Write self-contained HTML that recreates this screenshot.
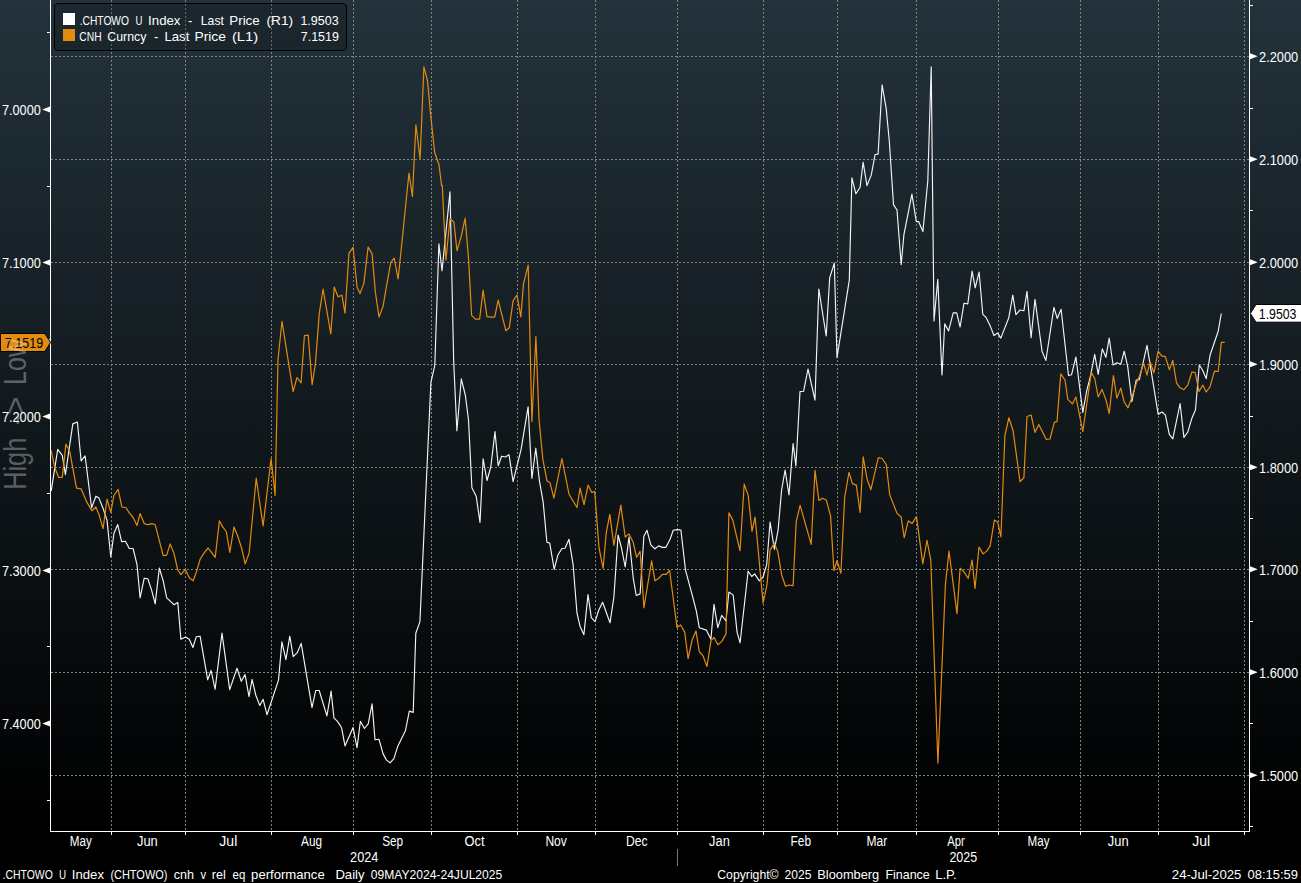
<!DOCTYPE html><html><head><meta charset="utf-8"><title>Chart</title><style>
html,body{margin:0;padding:0;background:#000;}body{width:1301px;height:883px;overflow:hidden;}svg{display:block;}text{font-family:"Liberation Sans",sans-serif;font-size:14px;fill:#fff;}
</style></head><body>
<svg width="1301" height="883" viewBox="0 0 1301 883">
<defs><linearGradient id="bg" x1="0" y1="0" x2="0" y2="1"><stop offset="0" stop-color="#23323b"/><stop offset="0.932" stop-color="#000"/><stop offset="1" stop-color="#000"/></linearGradient></defs>
<rect width="1301" height="883" fill="url(#bg)"/>
<g stroke="#7d847f" stroke-width="1" stroke-dasharray="2,2" shape-rendering="crispEdges" fill="none">
<line x1="111.5" y1="0" x2="111.5" y2="831"/>
<line x1="185.5" y1="0" x2="185.5" y2="831"/>
<line x1="271.5" y1="0" x2="271.5" y2="831"/>
<line x1="353.5" y1="0" x2="353.5" y2="831"/>
<line x1="431.5" y1="0" x2="431.5" y2="831"/>
<line x1="517.5" y1="0" x2="517.5" y2="831"/>
<line x1="595.5" y1="0" x2="595.5" y2="831"/>
<line x1="677.5" y1="0" x2="677.5" y2="831"/>
<line x1="763.5" y1="0" x2="763.5" y2="831"/>
<line x1="837.5" y1="0" x2="837.5" y2="831"/>
<line x1="916.5" y1="0" x2="916.5" y2="831"/>
<line x1="998.5" y1="0" x2="998.5" y2="831"/>
<line x1="1080.5" y1="0" x2="1080.5" y2="831"/>
<line x1="1158.5" y1="0" x2="1158.5" y2="831"/>
<line x1="1244.5" y1="0" x2="1244.5" y2="831"/>
<line x1="51" y1="56.5" x2="1249" y2="56.5"/>
<line x1="51" y1="159.5" x2="1249" y2="159.5"/>
<line x1="51" y1="262.5" x2="1249" y2="262.5"/>
<line x1="51" y1="364.5" x2="1249" y2="364.5"/>
<line x1="51" y1="467.5" x2="1249" y2="467.5"/>
<line x1="51" y1="569.5" x2="1249" y2="569.5"/>
<line x1="51" y1="672.5" x2="1249" y2="672.5"/>
<line x1="51" y1="775.5" x2="1249" y2="775.5"/>
</g>
<polyline fill="none" stroke="#f4f4f4" stroke-width="1.15" stroke-linejoin="round" points="51.2,490.8 57.7,449.3 62.3,455.4 65.4,474.7 72.8,423.9 77.4,422.0 81.1,460.8 85.1,455.9 91.6,507.8 95.9,496.2 99.0,498.1 103.1,508.5 107.0,520.1 110.8,557.0 113.9,533.5 117.7,524.6 121.6,541.6 125.4,541.2 129.3,548.5 133.1,548.5 137.0,564.6 140.1,597.8 144.2,578.2 147.8,578.8 151.6,590.1 155.2,603.9 159.3,568.0 163.2,580.8 166.7,597.8 173.9,604.7 177.8,602.4 180.9,639.3 185.5,637.0 189.3,639.3 192.9,647.5 196.3,636.7 200.1,636.2 207.7,679.8 211.1,670.5 215.1,689.3 222.0,633.1 229.7,689.6 237.0,668.2 241.3,681.3 245.0,674.4 249.0,696.7 252.1,679.3 255.9,695.5 259.8,705.5 263.1,699.3 267.0,714.7 278.5,680.1 281.9,641.9 285.9,659.7 289.8,636.2 293.2,656.7 297.3,652.7 301.2,643.4 312.0,707.7 315.7,690.5 319.2,690.5 326.9,715.8 331.1,691.1 333.9,717.8 337.7,721.6 341.6,727.8 345.0,745.9 353.1,727.5 357.0,747.8 360.4,721.3 364.4,728.5 368.2,723.9 372.1,703.9 375.0,739.8 379.0,739.3 383.1,753.9 386.5,760.1 390.1,762.9 393.9,758.6 397.8,746.2 401.6,738.5 405.5,730.5 409.3,711.1 413.2,712.4 415.8,633.3 419.9,621.9 430.9,382.4 434.8,365.4 438.9,243.9 442.0,270.8 450.0,191.9 453.7,362.0 456.9,430.8 461.3,378.8 465.4,395.5 468.5,420.0 471.9,487.8 476.2,496.2 480.0,522.4 483.1,458.8 487.0,480.5 490.8,467.0 495.0,431.6 498.2,465.7 501.6,456.2 505.4,457.0 509.0,454.7 513.1,481.6 521.1,449.3 528.1,406.9 531.9,478.5 535.8,448.2 539.3,480.1 543.2,502.4 546.9,542.3 549.7,543.1 554.2,569.3 558.0,554.7 561.9,548.5 565.0,548.2 569.0,539.3 573.1,564.7 577.0,613.2 580.0,626.2 583.9,634.7 588.0,594.6 591.3,617.7 595.1,621.6 598.8,610.0 602.6,602.3 610.0,622.8 613.9,597.0 618.1,535.0 621.6,548.5 625.2,567.0 629.0,537.0 633.2,577.8 636.2,595.5 640.1,593.9 643.9,536.2 647.0,530.3 650.9,545.1 655.0,548.8 658.6,545.9 662.4,547.4 665.8,547.4 670.1,539.3 673.2,530.3 677.0,529.6 680.9,530.0 685.5,570.1 692.1,594.6 696.3,610.8 699.3,627.7 706.3,630.1 710.9,639.3 714.0,604.3 717.8,627.7 721.7,615.4 726.0,620.8 728.9,592.0 733.2,595.1 737.1,632.4 740.1,642.8 748.1,571.2 751.7,576.5 754.7,573.9 759.3,580.9 763.1,577.0 766.7,564.7 770.1,522.1 774.4,549.3 778.1,530.1 781.6,490.0 785.1,470.0 789.0,495.0 793.1,443.6 795.9,466.0 800.0,391.6 803.6,391.3 808.0,369.0 815.0,400.1 818.8,289.0 826.2,336.0 829.7,277.8 834.3,263.1 837.0,357.7 849.3,280.1 851.9,177.9 855.9,193.8 860.1,187.2 863.1,162.2 867.0,185.6 871.3,174.9 875.1,154.5 878.1,154.1 882.1,84.8 886.2,108.6 889.3,141.0 893.5,204.6 897.0,210.0 901.2,264.7 903.9,234.6 911.9,194.1 916.3,221.6 918.6,221.6 922.9,231.6 927.8,181.0 931.2,66.8 934.0,320.9 937.8,279.3 942.0,375.0 944.7,323.9 948.6,330.9 953.2,312.9 956.7,312.9 960.1,327.0 964.0,303.2 967.8,303.9 972.1,271.1 975.2,287.8 979.1,272.1 982.8,314.4 986.2,317.7 990.0,325.4 993.9,335.5 997.7,333.1 1000.8,338.1 1008.8,317.7 1012.8,295.1 1015.9,314.7 1020.0,310.0 1023.9,310.8 1027.0,291.3 1031.1,337.8 1035.0,299.3 1042.1,351.6 1045.9,360.5 1053.9,307.3 1057.3,318.5 1061.1,309.3 1068.5,375.5 1071.6,374.7 1075.9,357.0 1082.8,412.4 1086.7,390.8 1090.8,374.6 1094.7,354.3 1098.2,374.3 1102.3,348.9 1105.9,357.3 1109.2,338.1 1113.1,365.0 1116.9,362.7 1120.8,364.3 1124.2,351.2 1127.7,366.6 1131.9,401.7 1136.2,380.1 1139.3,379.7 1147.0,345.3 1158.2,414.3 1162.0,412.0 1165.4,415.1 1169.3,434.3 1172.8,438.9 1180.1,403.5 1183.9,437.4 1187.8,432.0 1191.9,418.2 1195.5,409.7 1199.3,365.0 1202.4,369.7 1206.2,378.6 1210.1,355.0 1218.2,331.2 1221.3,313.5"/>
<polyline fill="none" stroke="#e38b0e" stroke-width="1.2" stroke-linejoin="round" points="51.2,450.3 54.6,467.0 58.5,477.3 62.3,477.3 65.9,444.2 69.7,451.3 76.5,488.2 81.1,488.8 87.0,502.4 91.9,510.8 95.9,507.0 99.0,514.7 103.1,528.6 107.0,499.0 110.8,512.4 113.9,495.5 118.1,489.3 121.9,507.0 125.8,507.5 129.3,512.8 133.1,517.5 137.0,525.5 140.1,513.5 144.2,523.6 147.8,524.7 151.9,523.6 155.2,524.7 163.2,555.7 166.7,555.1 170.1,543.9 173.9,553.1 177.8,570.0 180.9,574.7 185.2,569.3 189.3,577.7 193.2,580.8 196.3,572.3 200.1,559.3 204.0,553.1 208.1,548.0 211.7,552.6 215.2,557.4 219.4,520.8 222.7,526.9 226.3,531.5 229.8,552.3 234.0,526.9 237.8,536.2 241.7,548.5 245.2,563.9 249.1,553.2 256.2,478.2 263.1,525.9 271.1,458.5 275.1,495.4 278.0,359.3 282.0,321.3 293.1,391.6 297.0,377.5 301.1,382.8 304.4,335.7 308.2,335.1 312.1,384.7 315.4,363.9 319.3,313.1 323.1,289.0 330.8,333.9 334.2,287.0 338.0,296.7 341.9,295.2 345.0,313.2 349.0,253.1 353.1,247.3 357.0,287.0 360.0,293.6 363.9,283.1 368.1,247.0 372.1,253.9 375.4,292.4 379.0,317.0 383.1,306.2 387.0,283.1 390.8,262.4 394.2,258.2 398.1,279.0 402.4,237.7 406.2,200.0 409.0,173.0 412.4,196.4 415.9,124.8 420.1,158.7 423.9,66.8 427.5,80.9 430.8,116.3 434.7,152.5 439.0,164.8 441.6,185.6 442.3,185.4 445.9,260.1 450.0,218.5 453.9,222.3 457.0,250.8 461.3,236.2 465.1,218.2 468.5,257.8 471.6,315.4 475.4,319.2 479.6,319.2 483.1,290.1 487.0,316.6 490.8,317.2 494.7,317.2 498.2,300.1 505.9,330.8 509.3,327.7 513.1,300.9 517.0,295.0 520.8,316.9 523.5,283.9 528.2,265.2 531.9,421.6 535.9,336.6 539.0,419.2 542.8,459.0 547.0,480.8 550.1,483.1 553.9,498.2 561.9,458.5 569.0,494.2 577.0,507.5 580.1,488.2 584.0,504.7 588.1,485.1 591.7,492.4 594.7,491.6 599.0,547.7 603.1,568.5 606.2,533.1 609.8,514.3 613.9,545.4 620.8,505.1 625.2,537.0 629.0,533.9 633.2,542.3 636.6,557.3 640.1,551.3 643.9,607.8 651.6,560.8 655.0,580.8 658.5,578.5 662.4,574.3 666.2,574.3 669.6,570.5 677.0,627.4 680.6,625.0 684.7,632.1 688.1,658.5 692.1,640.1 696.0,631.1 699.3,651.6 703.2,656.2 707.0,666.5 710.9,640.8 714.0,637.3 717.8,644.7 721.7,641.6 726.0,633.9 728.9,512.8 732.8,520.1 740.0,550.8 744.2,484.2 748.2,495.4 752.0,531.3 755.1,517.0 763.1,603.1 767.0,584.6 770.1,550.1 774.4,543.1 777.8,551.6 781.6,574.7 785.5,586.2 789.0,585.0 793.1,585.7 796.2,521.6 800.1,505.4 811.2,544.4 815.0,470.3 818.9,500.5 822.4,498.2 826.3,500.0 830.6,516.2 833.9,570.6 837.0,560.5 840.9,573.2 844.7,497.0 849.0,472.3 852.4,483.6 856.3,485.1 860.1,512.4 863.2,456.9 867.1,479.3 870.9,489.7 878.3,457.7 882.1,458.5 886.3,464.6 889.7,494.6 896.9,513.1 901.1,517.0 904.2,537.7 908.2,520.8 912.0,523.6 916.5,516.6 922.8,563.9 927.0,540.4 930.8,560.1 937.9,763.1 945.4,584.7 949.0,551.1 957.0,613.6 960.1,568.2 963.9,571.6 968.2,578.5 972.1,560.1 975.0,588.5 979.0,547.0 983.1,553.9 986.7,551.1 990.1,546.2 994.4,520.0 997.8,522.3 1000.9,537.0 1004.9,435.5 1008.9,417.7 1013.1,430.8 1020.0,481.6 1023.9,477.8 1027.0,416.5 1031.1,415.0 1035.0,432.4 1038.8,424.4 1046.2,439.3 1050.0,439.0 1054.4,422.1 1057.0,421.6 1060.8,373.9 1065.0,380.0 1067.8,399.3 1072.4,403.9 1075.9,397.0 1082.8,431.6 1091.3,372.3 1094.7,378.5 1098.2,397.0 1102.0,389.4 1105.9,399.7 1109.2,413.5 1113.4,375.5 1116.9,398.1 1120.8,388.1 1124.2,402.0 1128.0,407.8 1131.9,397.4 1136.2,383.5 1139.3,376.6 1143.6,363.2 1147.0,375.1 1150.0,361.7 1153.9,372.7 1158.2,351.2 1161.6,355.8 1165.4,356.6 1169.3,369.7 1172.8,360.4 1176.5,382.8 1180.1,387.8 1183.9,389.7 1187.8,385.1 1191.9,372.0 1195.2,372.7 1199.0,391.5 1202.8,385.1 1206.2,392.0 1210.1,386.6 1214.4,371.2 1218.2,371.5 1221.3,342.4 1224.7,342.4"/>
<g stroke="#fff" stroke-width="1" shape-rendering="crispEdges" fill="none">
<line x1="50.5" y1="0" x2="50.5" y2="832"/>
<line x1="1249.5" y1="0" x2="1249.5" y2="832"/>
<line x1="51" y1="831.5" x2="1250" y2="831.5"/>
<line x1="111.5" y1="832" x2="111.5" y2="835"/>
<line x1="185.5" y1="832" x2="185.5" y2="835"/>
<line x1="271.5" y1="832" x2="271.5" y2="835"/>
<line x1="353.5" y1="832" x2="353.5" y2="835"/>
<line x1="431.5" y1="832" x2="431.5" y2="835"/>
<line x1="517.5" y1="832" x2="517.5" y2="835"/>
<line x1="595.5" y1="832" x2="595.5" y2="835"/>
<line x1="677.5" y1="832" x2="677.5" y2="835"/>
<line x1="763.5" y1="832" x2="763.5" y2="835"/>
<line x1="837.5" y1="832" x2="837.5" y2="835"/>
<line x1="916.5" y1="832" x2="916.5" y2="835"/>
<line x1="998.5" y1="832" x2="998.5" y2="835"/>
<line x1="1080.5" y1="832" x2="1080.5" y2="835"/>
<line x1="1158.5" y1="832" x2="1158.5" y2="835"/>
<line x1="1244.5" y1="832" x2="1244.5" y2="835"/>
<line x1="47" y1="32.5" x2="50" y2="32.5"/>
<line x1="47" y1="186.5" x2="50" y2="186.5"/>
<line x1="47" y1="339.5" x2="50" y2="339.5"/>
<line x1="47" y1="493.5" x2="50" y2="493.5"/>
<line x1="47" y1="646.5" x2="50" y2="646.5"/>
<line x1="47" y1="800.5" x2="50" y2="800.5"/>
<line x1="1250" y1="5.5" x2="1253" y2="5.5"/>
<line x1="1250" y1="108.5" x2="1253" y2="108.5"/>
<line x1="1250" y1="210.5" x2="1253" y2="210.5"/>
<line x1="1250" y1="313.5" x2="1253" y2="313.5"/>
<line x1="1250" y1="416.5" x2="1253" y2="416.5"/>
<line x1="1250" y1="518.5" x2="1253" y2="518.5"/>
<line x1="1250" y1="621.5" x2="1253" y2="621.5"/>
<line x1="1250" y1="723.5" x2="1253" y2="723.5"/>
<line x1="1250" y1="826.5" x2="1253" y2="826.5"/>
</g>
<path d="M50,106.4 L42.3,109.4 L50,112.4 Z" fill="#fff"/>
<text x="1.9" y="114.8" textLength="39" lengthAdjust="spacingAndGlyphs">7.0000</text>
<path d="M50,259.4 L42.3,262.4 L50,265.4 Z" fill="#fff"/>
<text x="1.9" y="267.8" textLength="39" lengthAdjust="spacingAndGlyphs">7.1000</text>
<path d="M50,413.4 L42.3,416.4 L50,419.4 Z" fill="#fff"/>
<text x="1.9" y="421.8" textLength="39" lengthAdjust="spacingAndGlyphs">7.2000</text>
<path d="M50,567.4 L42.3,570.4 L50,573.4 Z" fill="#fff"/>
<text x="1.9" y="575.8" textLength="39" lengthAdjust="spacingAndGlyphs">7.3000</text>
<path d="M50,720.4 L42.3,723.4 L50,726.4 Z" fill="#fff"/>
<text x="1.9" y="728.8" textLength="39" lengthAdjust="spacingAndGlyphs">7.4000</text>
<path d="M1250,53.2 L1257.7,56.2 L1250,59.2 Z" fill="#fff"/>
<text x="1259" y="61.8" textLength="39.2" lengthAdjust="spacingAndGlyphs">2.2000</text>
<path d="M1250,156.2 L1257.7,159.2 L1250,162.2 Z" fill="#fff"/>
<text x="1259" y="164.8" textLength="39.2" lengthAdjust="spacingAndGlyphs">2.1000</text>
<path d="M1250,259.2 L1257.7,262.2 L1250,265.2 Z" fill="#fff"/>
<text x="1259" y="267.8" textLength="39.2" lengthAdjust="spacingAndGlyphs">2.0000</text>
<path d="M1250,361.2 L1257.7,364.2 L1250,367.2 Z" fill="#fff"/>
<text x="1259" y="369.8" textLength="39.2" lengthAdjust="spacingAndGlyphs">1.9000</text>
<path d="M1250,464.2 L1257.7,467.2 L1250,470.2 Z" fill="#fff"/>
<text x="1259" y="472.8" textLength="39.2" lengthAdjust="spacingAndGlyphs">1.8000</text>
<path d="M1250,566.2 L1257.7,569.2 L1250,572.2 Z" fill="#fff"/>
<text x="1259" y="574.8" textLength="39.2" lengthAdjust="spacingAndGlyphs">1.7000</text>
<path d="M1250,669.2 L1257.7,672.2 L1250,675.2 Z" fill="#fff"/>
<text x="1259" y="677.8" textLength="39.2" lengthAdjust="spacingAndGlyphs">1.6000</text>
<path d="M1250,772.2 L1257.7,775.2 L1250,778.2 Z" fill="#fff"/>
<text x="1259" y="780.8" textLength="39.2" lengthAdjust="spacingAndGlyphs">1.5000</text>
<path d="M0.5,333.5 L44.8,333.5 L50.6,342.4 L44.8,351.5 L0.5,351.5 Z" fill="#e38b0e" stroke="#000" stroke-width="1" stroke-linejoin="miter"/>
<text x="4.8" y="347.9" style="fill:#000" textLength="38.3" lengthAdjust="spacingAndGlyphs">7.1519</text>
<path d="M1303,304.5 L1256,304.5 L1250.4,313.4 L1256,322.2 L1303,322.2 Z" fill="#fff" stroke="#000" stroke-width="1"/>
<text x="1258.8" y="319" style="fill:#000" textLength="37.6" lengthAdjust="spacingAndGlyphs">1.9503</text>
<g transform="translate(26,489.8) rotate(-90)" style="font-size:31px" fill="#fff" fill-opacity="0.33">
<text x="0" y="0" style="font-size:31px;fill:inherit" textLength="52" lengthAdjust="spacingAndGlyphs">High</text>
<text x="64.3" y="0" style="font-size:31px;fill:inherit" textLength="29" lengthAdjust="spacingAndGlyphs">-&gt;</text>
<text x="104.9" y="0" style="font-size:31px;fill:inherit" textLength="46" lengthAdjust="spacingAndGlyphs">Low</text>
</g>
<rect x="54.5" y="3.5" width="292" height="47" rx="3.5" ry="3.5" fill="#000" fill-opacity="0.2" stroke="#000" stroke-width="1"/>
<rect x="63" y="13" width="12" height="12" fill="#fff"/>
<rect x="63" y="29" width="12" height="12" fill="#e38b0e"/>
<text x="79.7" y="25" textLength="49.3" lengthAdjust="spacingAndGlyphs" style="font-size:13.4px">.CHTOWO</text>
<text x="135.5" y="25" textLength="6.9" lengthAdjust="spacingAndGlyphs" style="font-size:13.4px">U</text>
<text x="148.1" y="25" textLength="32.4" lengthAdjust="spacingAndGlyphs" style="font-size:13.4px">Index</text>
<text x="188.1" y="25" textLength="4.4" lengthAdjust="spacingAndGlyphs" style="font-size:13.4px">-</text>
<text x="200.8" y="25" textLength="23.1" lengthAdjust="spacingAndGlyphs" style="font-size:13.4px">Last</text>
<text x="229.3" y="25" textLength="30.4" lengthAdjust="spacingAndGlyphs" style="font-size:13.4px">Price</text>
<text x="266.5" y="25" textLength="26.6" lengthAdjust="spacingAndGlyphs" style="font-size:13.4px">(R1)</text>
<text x="300.4" y="25" textLength="38.2" lengthAdjust="spacingAndGlyphs" style="font-size:13.4px">1.9503</text>
<text x="79.3" y="41" textLength="22.3" lengthAdjust="spacingAndGlyphs" style="font-size:13.4px">CNH</text>
<text x="107.3" y="41" textLength="39.0" lengthAdjust="spacingAndGlyphs" style="font-size:13.4px">Curncy</text>
<text x="154" y="41" textLength="4.3" lengthAdjust="spacingAndGlyphs" style="font-size:13.4px">-</text>
<text x="164.4" y="41" textLength="25.0" lengthAdjust="spacingAndGlyphs" style="font-size:13.4px">Last</text>
<text x="194.5" y="41" textLength="31.4" lengthAdjust="spacingAndGlyphs" style="font-size:13.4px">Price</text>
<text x="231.9" y="41" textLength="26.3" lengthAdjust="spacingAndGlyphs" style="font-size:13.4px">(L1)</text>
<text x="300.8" y="41" textLength="38.1" lengthAdjust="spacingAndGlyphs" style="font-size:13.4px">7.1519</text>
<text x="69.8" y="846" textLength="22" lengthAdjust="spacingAndGlyphs">May</text>
<text x="137.0" y="846" textLength="20.8" lengthAdjust="spacingAndGlyphs">Jun</text>
<text x="219.3" y="846" textLength="18" lengthAdjust="spacingAndGlyphs">Jul</text>
<text x="301.1" y="846" textLength="21" lengthAdjust="spacingAndGlyphs">Aug</text>
<text x="382.2" y="846" textLength="21" lengthAdjust="spacingAndGlyphs">Sep</text>
<text x="464.5" y="846" textLength="20" lengthAdjust="spacingAndGlyphs">Oct</text>
<text x="545.4" y="846" textLength="21.5" lengthAdjust="spacingAndGlyphs">Nov</text>
<text x="626.0" y="846" textLength="21.5" lengthAdjust="spacingAndGlyphs">Dec</text>
<text x="709.1" y="846" textLength="20.7" lengthAdjust="spacingAndGlyphs">Jan</text>
<text x="790.5" y="846" textLength="20.5" lengthAdjust="spacingAndGlyphs">Feb</text>
<text x="866.5" y="846" textLength="20.7" lengthAdjust="spacingAndGlyphs">Mar</text>
<text x="947.2" y="846" textLength="17.5" lengthAdjust="spacingAndGlyphs">Apr</text>
<text x="1027.6" y="846" textLength="22" lengthAdjust="spacingAndGlyphs">May</text>
<text x="1107.8" y="846" textLength="20.8" lengthAdjust="spacingAndGlyphs">Jun</text>
<text x="1192.2" y="846" textLength="18" lengthAdjust="spacingAndGlyphs">Jul</text>
<text x="350.1" y="862" textLength="28.3" lengthAdjust="spacingAndGlyphs">2024</text>
<text x="949.4" y="862" textLength="27.8" lengthAdjust="spacingAndGlyphs">2025</text>
<line x1="677.5" y1="849" x2="677.5" y2="866" stroke="#777" stroke-width="1" shape-rendering="crispEdges"/>
<text x="2.5" y="879" textLength="50.3" lengthAdjust="spacingAndGlyphs" style="font-size:13px">.CHTOWO</text>
<text x="58.9" y="879" textLength="7.1" lengthAdjust="spacingAndGlyphs" style="font-size:13px">U</text>
<text x="71.8" y="879" textLength="32.2" lengthAdjust="spacingAndGlyphs" style="font-size:13px">Index</text>
<text x="110.4" y="879" textLength="57.0" lengthAdjust="spacingAndGlyphs" style="font-size:13px">(CHTOWO)</text>
<text x="173.8" y="879" textLength="20.2" lengthAdjust="spacingAndGlyphs" style="font-size:13px">cnh</text>
<text x="200.4" y="879" textLength="5.6" lengthAdjust="spacingAndGlyphs" style="font-size:13px">v</text>
<text x="211.8" y="879" textLength="14.0" lengthAdjust="spacingAndGlyphs" style="font-size:13px">rel</text>
<text x="232.6" y="879" textLength="12.7" lengthAdjust="spacingAndGlyphs" style="font-size:13px">eq</text>
<text x="251.1" y="879" textLength="73.6" lengthAdjust="spacingAndGlyphs" style="font-size:13px">performance</text>
<text x="335.4" y="879" textLength="29.2" lengthAdjust="spacingAndGlyphs" style="font-size:13px">Daily</text>
<text x="370.7" y="879" textLength="131.6" lengthAdjust="spacingAndGlyphs" style="font-size:13px">09MAY2024-24JUL2025</text>
<text x="717.3" y="879" textLength="61.3" lengthAdjust="spacingAndGlyphs" style="font-size:13px">Copyright©</text>
<text x="784.5" y="879" textLength="26.9" lengthAdjust="spacingAndGlyphs" style="font-size:13px">2025</text>
<text x="817.3" y="879" textLength="61.9" lengthAdjust="spacingAndGlyphs" style="font-size:13px">Bloomberg</text>
<text x="885.4" y="879" textLength="44.4" lengthAdjust="spacingAndGlyphs" style="font-size:13px">Finance</text>
<text x="935.2" y="879" textLength="21.5" lengthAdjust="spacingAndGlyphs" style="font-size:13px">L.P.</text>
<text x="1171.8" y="879" textLength="69.6" lengthAdjust="spacingAndGlyphs" style="font-size:13px">24-Jul-2025</text>
<text x="1247.6" y="879" textLength="50.4" lengthAdjust="spacingAndGlyphs" style="font-size:13px">08:15:59</text>
</svg></body></html>
